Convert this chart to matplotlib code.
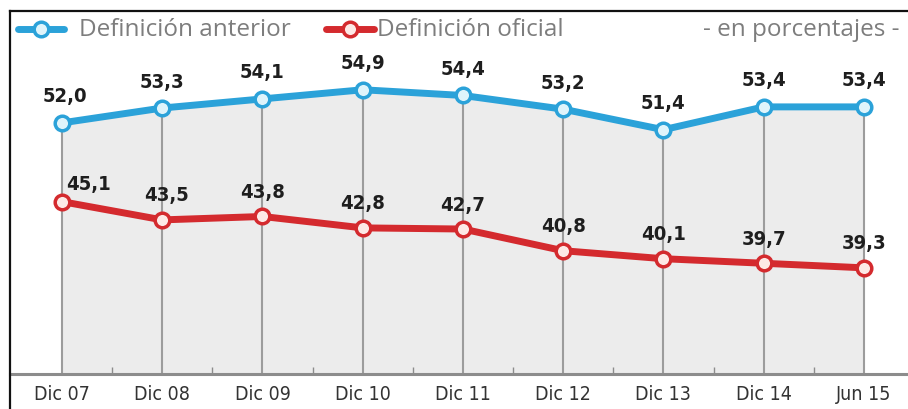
import matplotlib
matplotlib.use("Agg")
import matplotlib.pyplot as plt
from matplotlib import font_manager
from matplotlib.lines import Line2D
import numpy as np

categories = ["Dic 07", "Dic 08", "Dic 09", "Dic 10", "Dic 11", "Dic 12", "Dic 13", "Dic 14", "Jun 15"]
anterior = [52.0, 53.3, 54.1, 54.9, 54.4, 53.2, 51.4, 53.4, 53.4]
oficial = [45.1, 43.5, 43.8, 42.8, 42.7, 40.8, 40.1, 39.7, 39.3]
legend_labels = ["Definición anterior", "Definición oficial"]
unit_note = "- en porcentajes -"

names = {f.name for f in font_manager.fontManager.ttflist}
legend_font = "Open Sans" if "Open Sans" in names else "DejaVu Sans"
cond = dict(family="DejaVu Sans", fontstretch="condensed")

BLUE = "#2ba2d9"
BLUE_FILL = "#dff4fb"
RED = "#d42a2e"
RED_FILL = "#fde9e6"
GRID = "#9c9c9c"
AREA = "#ececec"

W, H = 908, 410
fig = plt.figure(figsize=(W / 100, H / 100), dpi=100)
ax = fig.add_axes([10 / W, 35 / H, 898 / W, 363 / H])

x = np.arange(len(categories))
ax.set_xlim(-0.519, 8.44)
ax.set_ylim(30, 61.8)

# shaded area under the upper series
ax.fill_between(x, anterior, 30, color=AREA, zorder=1, lw=0)
# drop lines from the upper points to the base
ax.vlines(x, 30, anterior, color=GRID, lw=1.5, zorder=2)

line_kw = dict(lw=5, zorder=4, solid_capstyle="round", marker="o", ms=10.5, mew=2.5)
ax.plot(x, anterior, color=BLUE, mfc=BLUE_FILL, mec=BLUE, **line_kw)
ax.plot(x, oficial, color=RED, mfc=RED_FILL, mec=RED, **line_kw)

lab_kw = dict(fontsize=14.5, fontweight="bold", color="#1e1e1e",
              ha="center", va="center", zorder=6, **cond)
for i, v in enumerate(anterior):
    dx = 3 if i == 0 else 0
    ax.annotate(f"{v:.1f}".replace(".", ","), (x[i], v), xytext=(dx, 27),
                textcoords="offset pixels", **lab_kw)
for i, v in enumerate(oficial):
    dx, dy = (26, 18) if i == 0 else (4 if i == 1 else 0, 25)
    ax.annotate(f"{v:.1f}".replace(".", ","), (x[i], v), xytext=(dx, dy),
                textcoords="offset pixels", **lab_kw)

# base line and axis styling
for s in ["top", "right", "left"]:
    ax.spines[s].set_visible(False)
ax.spines["bottom"].set_color("#8c8c8c")
ax.spines["bottom"].set_linewidth(2.2)
ax.set_yticks([])
ax.set_xticks(x)
ax.set_xticklabels(categories, fontsize=14, color="#333333", **cond)
ax.tick_params(axis="x", length=0, pad=7)
ax.set_xticks(x[:-1] + 0.5, minor=True)
ax.tick_params(axis="x", which="minor", direction="in", length=5, width=1, color="#8c8c8c")

# frame: left and top border
fig.add_artist(Line2D([10 / W, 10 / W], [0, 1 - 12 / H], color="#111111", lw=1.6))
fig.add_artist(Line2D([10 / W, 1], [1 - 12 / H, 1 - 12 / H], color="#111111", lw=1.6))

# legend row
ly = 1 - 30 / H
for (x0, x1), col, fc, txt, tx in [((18, 64), BLUE, BLUE_FILL, legend_labels[0], 79),
                                   ((326, 374), RED, RED_FILL, legend_labels[1], 377)]:
    fig.add_artist(Line2D([x0 / W, x1 / W], [ly, ly], color=col, lw=5, solid_capstyle="round"))
    fig.add_artist(Line2D([(x0 + x1) / 2 / W], [ly], marker="o", ms=10.5, mfc=fc, mec=col, mew=2.5))
    fig.text(tx / W, ly, txt, family=legend_font, fontsize=17.5, color="#7d7d7d",
             ha="left", va="center")
fig.text(703 / W, ly, unit_note, family=legend_font, fontsize=17.5, color="#7d7d7d",
         ha="left", va="center")

fig.savefig("out.png", dpi=100, facecolor="white")
